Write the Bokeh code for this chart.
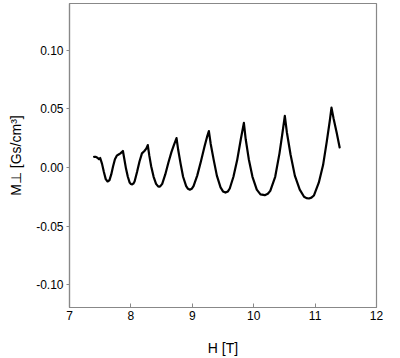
from bokeh.plotting import figure
from bokeh.embed import file_html
from bokeh.resources import INLINE
from bokeh.models import Range1d, FixedTicker, CustomJSTickFormatter

H = [7.40, 7.43, 7.46, 7.48, 7.50, 7.53, 7.56, 7.59, 7.62, 7.65, 7.68, 7.71, 7.74, 7.77, 7.80, 7.83, 7.87,
     7.89, 7.92, 7.95, 7.98, 8.00, 8.02, 8.04, 8.06, 8.10, 8.14, 8.18, 8.22, 8.25, 8.275,
     8.30, 8.33, 8.37, 8.41, 8.44, 8.46, 8.48, 8.51, 8.56, 8.61, 8.66, 8.70, 8.743,
     8.77, 8.81, 8.85, 8.90, 8.93, 8.96, 8.99, 9.02, 9.08, 9.14, 9.20, 9.24, 9.27,
     9.30, 9.35, 9.40, 9.46, 9.50, 9.54, 9.58, 9.61, 9.67, 9.73, 9.79, 9.84,
     9.87, 9.92, 9.98, 10.05, 10.11, 10.18, 10.23, 10.27, 10.35, 10.42, 10.47, 10.507,
     10.54, 10.60, 10.67, 10.75, 10.82, 10.86, 10.90, 10.94, 10.98, 11.06, 11.13, 11.19, 11.24, 11.267,
     11.30, 11.35, 11.40]
M = [0.009, 0.009, 0.008, 0.007, 0.008, 0.003, -0.004, -0.010, -0.012, -0.011, -0.006, 0.001, 0.007, 0.010, 0.011, 0.012, 0.014,
     0.008, -0.001, -0.008, -0.013, -0.0142, -0.0145, -0.0138, -0.012, -0.004, 0.005, 0.012, 0.014, 0.016, 0.019,
     0.010, 0.001, -0.008, -0.014, -0.0160, -0.0165, -0.0160, -0.014, -0.006, 0.004, 0.013, 0.019, 0.025,
     0.015, 0.003, -0.008, -0.016, -0.0183, -0.019, -0.0183, -0.016, -0.007, 0.005, 0.018, 0.026, 0.031,
     0.020, 0.006, -0.007, -0.017, -0.0205, -0.0215, -0.0205, -0.018, -0.008, 0.006, 0.024, 0.038,
     0.024, 0.007, -0.008, -0.019, -0.0230, -0.0237, -0.0225, -0.020, -0.008, 0.012, 0.030, 0.044,
     0.030, 0.011, -0.007, -0.019, -0.025, -0.0262, -0.0265, -0.0258, -0.024, -0.013, 0.002, 0.022, 0.040, 0.051,
     0.042, 0.030, 0.017]

x_ticks = [7, 8, 9, 10, 11, 12]
y_ticks = [-0.10, -0.05, 0.0, 0.05, 0.10]

p = figure(width=400, height=358, output_backend="svg", toolbar_location=None,
           x_range=Range1d(7, 12), y_range=Range1d(-0.1195, 0.1398),
           min_border_left=69, min_border_right=24, min_border_top=3, min_border_bottom=49)
p.line(H, M, line_color="black", line_width=2.2, line_join="round", line_cap="round")

p.grid.visible = False
p.background_fill_color = "white"
p.outline_line_color = "#888888"
p.outline_line_width = 1.2

p.xaxis.ticker = FixedTicker(ticks=x_ticks)
p.yaxis.ticker = FixedTicker(ticks=y_ticks)
p.xaxis.minor_tick_line_color = None
p.yaxis.minor_tick_line_color = None
p.yaxis.formatter = CustomJSTickFormatter(code="return tick.toFixed(2);")

for ax in (p.xaxis[0], p.yaxis[0]):
    ax.axis_line_color = "#888888"
    ax.axis_line_width = 1.2
    ax.major_tick_line_color = "#888888"
    ax.major_label_text_font = "Liberation Sans"
    ax.major_label_text_font_size = "12px"
    ax.major_label_text_color = "black"
    ax.axis_label_text_font = "Liberation Sans"
    ax.axis_label_text_font_size = "14px"
    ax.axis_label_text_font_style = "normal"
    ax.axis_label_text_color = "black"

p.xaxis.major_tick_in = 4
p.xaxis.major_tick_out = 0
p.xaxis.major_label_standoff = 3
p.xaxis.axis_label = "H [T]"
p.xaxis.axis_label_standoff = 17

p.yaxis.major_tick_in = 0
p.yaxis.major_tick_out = 3
p.yaxis.major_label_standoff = 3
p.yaxis.axis_label = "M⊥ [Gs/cm³]"
p.yaxis.axis_label_standoff = 9

open("out.html", "w").write(file_html(p, INLINE))
